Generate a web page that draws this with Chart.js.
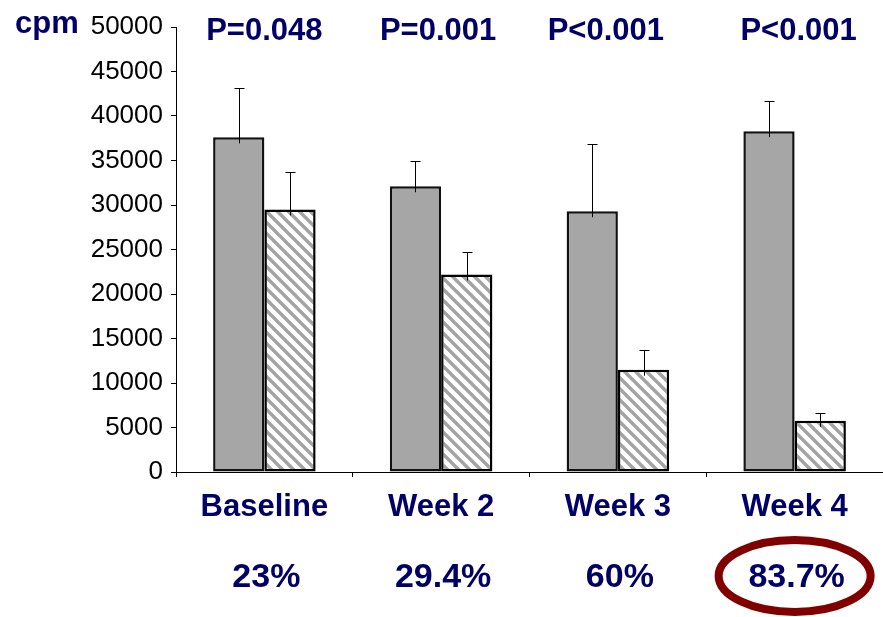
<!DOCTYPE html>
<html>
<head>
<meta charset="utf-8">
<script src="https://cdn.jsdelivr.net/npm/chart.js@4.4.1/dist/chart.umd.min.js"></script>
<style>
  html, body { margin: 0; padding: 0; background: #ffffff; }
  #wrap { width: 883px; height: 617px; position: relative; }
</style>
</head>
<body>
<div id="wrap"><canvas id="c"></canvas></div>
<script>
// ---- data ----
const categories = ['Baseline', 'Week 2', 'Week 3', 'Week 4'];
const controlValues = [37600, 32100, 29300, 38300];
const controlErrors = [5600, 2900, 7500, 3400];
const treatedValues = [29500, 22200, 11500, 5750];
const treatedErrors = [4200, 2500, 2250, 850];
const pValueLabels = ['P=0.048', 'P=0.001', 'P<0.001', 'P<0.001'];
const reductionLabels = ['23%', '29.4%', '60%', '83.7%'];
const yTicks = [0, 5000, 10000, 15000, 20000, 25000, 30000, 35000, 40000, 45000, 50000];
const highlightIndex = 3;

const NAVY = '#000066';
const FONT = "'Liberation Sans', Arial, sans-serif";

function makeHatch() {
  const s = 11;
  const c = document.createElement('canvas');
  c.width = s; c.height = s;
  const g = c.getContext('2d');
  g.fillStyle = '#ffffff';
  g.fillRect(0, 0, s, s);
  g.strokeStyle = '#a3a3a3';
  g.lineWidth = 3.4;
  g.beginPath();
  for (let k = -2; k <= 2; k++) {
    g.moveTo(-s, k * s - s); g.lineTo(2 * s, k * s + 2 * s);
  }
  g.stroke();
  return document.getElementById('c').getContext('2d').createPattern(c, 'repeat');
}

const errorBarPlugin = {
  id: 'errorBars',
  afterDatasetsDraw(chart) {
    const ctx = chart.ctx;
    const y = chart.scales.y;
    ctx.save();
    ctx.strokeStyle = '#000000';
    ctx.lineWidth = 1;
    chart.data.datasets.forEach((ds, di) => {
      const meta = chart.getDatasetMeta(di);
      meta.data.forEach((bar, i) => {
        const v = ds.data[i];
        const e = ds.errors[i];
        const x = Math.round(bar.x) + 0.5;
        const y0 = y.getPixelForValue(v) + 6;
        const y1 = Math.round(y.getPixelForValue(v + e)) + 0.5;
        ctx.beginPath();
        ctx.moveTo(x, y0);
        ctx.lineTo(x, y1);
        ctx.moveTo(x - 5, y1);
        ctx.lineTo(x + 5, y1);
        ctx.stroke();
      });
    });
    ctx.restore();
  }
};

const annotationPlugin = {
  id: 'annotations',
  afterDraw(chart) {
    const ctx = chart.ctx;
    const xs = chart.scales.x;
    ctx.save();
    ctx.fillStyle = NAVY;
    ctx.textAlign = 'left';
    ctx.textBaseline = 'alphabetic';
    ctx.font = 'bold 31px ' + FONT;
    ctx.fillText('cpm', 15, 33);

    ctx.textAlign = 'center';
    ctx.font = 'bold 31px ' + FONT;
    const pShift = [0, -3, -12, 4];
    pValueLabels.forEach((t, i) => {
      ctx.fillText(t, xs.getPixelForValue(i) + pShift[i], 40);
    });

    ctx.font = 'bold 34px ' + FONT;
    reductionLabels.forEach((t, i) => {
      ctx.fillText(t, xs.getPixelForValue(i) + 2, 587);
    });

    const cx = xs.getPixelForValue(highlightIndex);
    ctx.strokeStyle = '#800000';
    ctx.lineWidth = 8;
    ctx.beginPath();
    ctx.ellipse(cx, 576, 76, 36, 0, 0, Math.PI * 2);
    ctx.stroke();
    ctx.restore();
  }
};

const hatch = makeHatch();

new Chart(document.getElementById('c'), {
  type: 'bar',
  data: {
    labels: categories,
    datasets: [
      {
        label: 'Control',
        data: controlValues,
        errors: controlErrors,
        backgroundColor: '#a6a6a6',
        borderColor: '#111111',
        borderWidth: 2.5,
        borderSkipped: false
      },
      {
        label: 'Treated',
        data: treatedValues,
        errors: treatedErrors,
        backgroundColor: hatch,
        borderColor: '#000000',
        borderWidth: 2.5,
        borderSkipped: false
      }
    ]
  },
  options: {
    responsive: true,
    maintainAspectRatio: false,
    animation: false,
    events: [],
    layout: { padding: { top: 27, right: 0, left: 0, bottom: 0 } },
    plugins: {
      legend: { display: false },
      tooltip: { enabled: false },
      title: { display: false }
    },
    datasets: {
      bar: { categoryPercentage: 0.58, barPercentage: 1.0 }
    },
    scales: {
      x: {
        type: 'category',
        offset: true,
        grid: {
          display: true,
          offset: true,
          drawOnChartArea: false,
          drawTicks: true,
          tickLength: 5,
          color: '#000000'
        },
        border: { display: true, color: '#000000', width: 1 },
        ticks: {
          color: NAVY,
          font: { family: FONT, size: 31, weight: 'bold' },
          padding: 12,
          maxRotation: 0
        },
        afterFit(scale) { scale.height = 145; }
      },
      y: {
        min: 0,
        max: 50000,
        afterBuildTicks(scale) { scale.ticks = yTicks.map(v => ({ value: v })); },
        grid: {
          display: true,
          drawOnChartArea: false,
          drawTicks: true,
          tickLength: 5,
          color: '#000000'
        },
        border: { display: true, color: '#000000', width: 1 },
        ticks: {
          color: '#000000',
          font: { family: FONT, size: 26 },
          padding: 8,
          callback: (v) => String(v)
        },
        afterFit(scale) { scale.width = 176; }
      }
    }
  },
  plugins: [errorBarPlugin, annotationPlugin]
});
</script>
</body>
</html>
